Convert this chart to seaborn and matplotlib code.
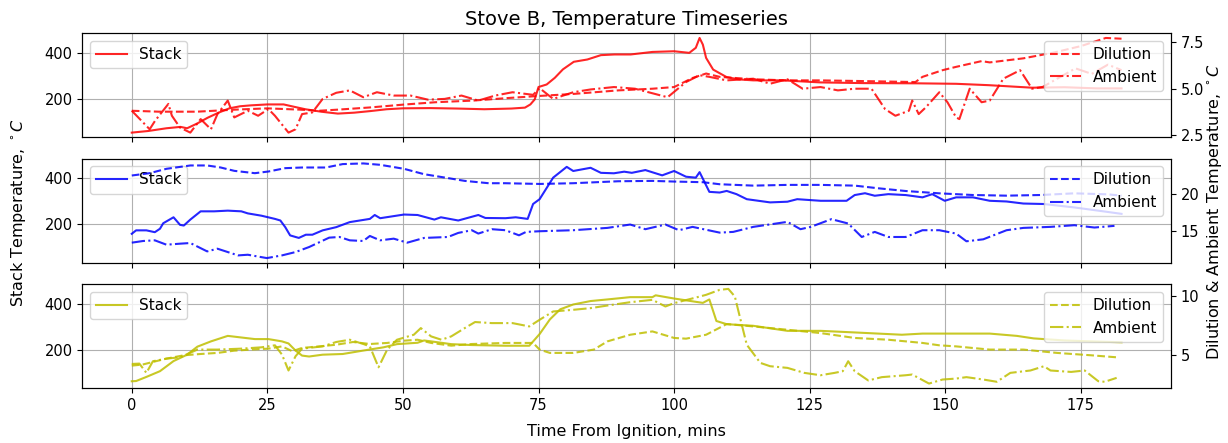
import numpy as np
import matplotlib
matplotlib.use("Agg")
import matplotlib.pyplot as plt
from matplotlib.ticker import MaxNLocator
import seaborn as sns

# ---------------- data ----------------
# Run 1 (red)
r1_stack_t = [0, 3, 6.4, 9, 10.2, 12, 14, 16, 18, 20, 22, 25, 28, 29.5, 32, 35, 38, 41, 44, 47, 50, 55, 60,
              65, 70, 72.5, 73.5, 74.3, 75, 76.5, 78, 79.5, 81.5, 84, 86.5, 89, 92, 96, 100, 102.8, 104,
              104.7, 105.3, 105.9, 107.2, 109.7, 112, 114.6, 120, 127, 135, 145, 152, 158, 166, 172, 178, 182.5]
r1_stack = [52, 59, 71, 77, 71, 91, 117, 139, 158, 167, 171, 175, 175, 167, 154, 143, 135, 139, 146, 154, 158,
            159, 157, 154, 157, 161, 175, 197, 251, 262, 291, 328, 361, 371, 390, 393, 393, 404, 407, 400, 422,
            465, 436, 378, 327, 294, 284, 280, 280, 271, 268, 267, 265, 259, 248, 250, 245, 245]
r1_dil_t = [0, 5, 12, 19, 25, 31, 34.5, 38, 44, 50, 56, 63, 69, 74.6, 81.5, 89.7, 96, 100, 103.4, 105.9, 108.4,
            114.6, 121, 127, 133.3, 144.5, 145.8, 149.5, 152, 156.7, 158.2, 164.4, 170, 175, 179.6, 182.5]
r1_dil = [3.81, 3.76, 3.76, 3.87, 3.94, 3.87, 3.81, 3.87, 3.99, 4.14, 4.27, 4.36, 4.49, 4.60, 4.72, 4.91, 5.0,
          5.09, 5.58, 5.82, 5.64, 5.51, 5.45, 5.45, 5.42, 5.36, 5.64, 6.0, 6.18, 6.49, 6.42, 6.64, 6.95, 7.3,
          7.74, 7.7]
r1_amb_t = [0, 0.8, 3.3, 4.3, 6.75, 7.4, 8.9, 10.8, 12.7, 14.6, 15.8, 17.7, 18.9, 21.4, 23.3, 25.2, 26.4, 28.9,
            30.2, 31.4, 33.3, 35.2, 37.7, 40.2, 42.7, 45.2, 48.3, 51.4, 54.6, 57.7, 60.8, 63.9, 67, 70.2, 74,
            75.2, 77.7, 81.4, 84.6, 88.9, 92.8, 98.8, 102.2, 104.7, 106.5, 109.7, 114.6, 117.7, 120.9, 123.7,
            127, 130.2, 133.3, 136.4, 138.9, 140.8, 143.3, 143.9, 145.1, 146.4, 148.9, 150.4, 152, 152.6, 154.5,
            156.7, 158.2, 160.7, 163.8, 166, 168, 171, 174, 177, 180, 182.5]
r1_amb = [3.81, 3.57, 2.81, 3.27, 4.18, 3.54, 2.90, 2.63, 3.36, 2.81, 3.63, 4.36, 3.45, 3.81, 3.54, 3.90, 3.54,
          2.63, 2.81, 3.63, 3.72, 4.45, 4.78, 4.91, 4.54, 4.81, 4.63, 4.63, 4.41, 4.45, 4.63, 4.36, 4.63, 4.81,
          4.67, 5.03, 4.45, 4.81, 4.96, 5.09, 5.0, 4.54, 5.36, 5.73, 5.64, 5.45, 5.54, 5.27, 5.51, 5.0, 5.09,
          4.91, 5.0, 5.0, 3.9, 3.54, 3.81, 4.36, 3.63, 3.99, 4.81, 4.27, 3.45, 3.36, 5.0, 4.27, 4.36, 5.54, 6.0,
          5.0, 5.1, 5.6, 6.1, 5.8, 6.3, 6.0]

# Run 2 (blue)
r2_stack_t = [0, 0.8, 2.7, 4.25, 5.2, 5.8, 7.7, 8.9, 9.6, 10.8, 12.7, 15.2, 17.7, 20.2, 21.4, 23.9, 26.4, 27.4,
              28.3, 29.2, 30.8, 32.1, 33.3, 35.2, 37.7, 40.2, 43.9, 44.8, 45.8, 50.2, 52.7, 55.8, 57, 60.2,
              63.9, 65.2, 68.9, 70.8, 73, 74, 75.2, 77.7, 80.2, 81.4, 84.6, 86.5, 88.9, 90.8, 92.2, 94.7, 97.8,
              100, 102.2, 104, 104.7, 106.5, 108.4, 109.7, 111.5, 113.4, 117.7, 120.9, 122.7, 127, 131.8, 133.3,
              135.2, 137, 139.5, 142.7, 145.8, 147.6, 149.9, 152, 155.1, 158.2, 161.3, 164.4, 168.1, 173.8,
              178.2, 182.5]
r2_stack = [158, 173, 173, 165, 180, 204, 230, 197, 194, 220, 256, 256, 259, 256, 247, 237, 223, 216, 187, 151,
            140, 154, 154, 173, 187, 209, 223, 240, 226, 242, 240, 220, 230, 216, 240, 227, 226, 230, 223, 288,
            309, 403, 450, 432, 446, 424, 422, 429, 424, 436, 413, 432, 407, 403, 427, 341, 338, 345, 331, 309,
            295, 298, 309, 302, 302, 327, 335, 324, 331, 327, 317, 331, 302, 317, 317, 302, 299, 290, 288, 273,
            259, 245]
r2_dil_t = [0, 3.3, 6.4, 10.8, 13.9, 16.4, 18.9, 22.7, 25.2, 28.3, 31.4, 35.8, 38.9, 42.7, 45.8, 50.2, 53.9,
            57.7, 61.4, 65.8, 68.9, 75.2, 81.4, 89.7, 96, 100, 105.3, 108.4, 114.6, 120.9, 127, 133.3, 137.7,
            142.7, 148.9, 155.1, 161.3, 167.6, 173.8, 180, 182.5]
r2_dil = [22.59, 22.91, 23.51, 23.97, 23.97, 23.69, 23.23, 22.91, 23.14, 23.60, 23.69, 23.69, 24.16, 24.25,
          24.06, 23.51, 22.77, 22.31, 21.85, 21.53, 21.53, 21.43, 21.53, 21.8, 21.85, 21.76, 21.67, 21.39, 21.2,
          21.3, 21.3, 21.2, 20.83, 20.46, 20.14, 19.91, 19.82, 19.91, 20.14, 20.0, 19.82]
r2_amb_t = [0, 2.1, 4.25, 6.4, 8.9, 10.8, 13.9, 15.8, 19.6, 21.4, 24.9, 27.7, 30.2, 32.7, 36.4, 38.3, 40.2,
            42.7, 43.9, 45.8, 48.3, 50.8, 53.9, 58.3, 60.2, 62.7, 63.9, 66.4, 68.9, 71.4, 72.7, 75.2, 81.4,
            87.7, 91.9, 94.7, 98.4, 100.9, 103.4, 108.4, 110.9, 114.6, 120.9, 123.3, 125.2, 129, 132.1, 134.6,
            137, 139.5, 142.7, 145.8, 148.9, 152, 153.9, 157, 161.3, 164.4, 169.4, 173.8, 177.5, 181.2]
r2_amb = [13.36, 13.59, 13.68, 13.08, 13.22, 13.31, 12.16, 12.53, 11.61, 11.70, 11.24, 11.61, 12.07, 12.76,
          14.05, 14.14, 13.68, 13.59, 14.28, 13.68, 13.91, 13.36, 14.01, 14.14, 14.70, 15.07, 14.61, 15.21,
          15.07, 14.37, 14.84, 14.93, 15.07, 15.39, 15.85, 15.21, 15.85, 15.07, 15.53, 14.74, 14.84, 15.53,
          16.22, 15.21, 15.53, 16.59, 15.99, 14.14, 14.84, 14.14, 14.14, 15.07, 15.07, 14.61, 13.55, 13.82,
          15.07, 15.39, 15.53, 15.76, 15.44, 15.67]

# Run 3 (yellow)
r3_stack_t = [0, 0.8, 2.7, 5.2, 7.7, 10.2, 12.1, 14.6, 17.7, 20.2, 22.7, 25.2, 27.7, 28.9, 30.2, 31.4, 32.7,
              35.2, 38.9, 42.7, 46.4, 48.9, 52.7, 53.9, 55.2, 58.9, 62.7, 68.9, 73.3, 75.2, 77.1, 79, 81.4,
              84.6, 87.7, 91.9, 96, 96.6, 100, 105.3, 106.5, 107.8, 109.7, 114.6, 120.9, 127, 133.3, 142,
              145.8, 152, 158.2, 163.2, 166.3, 172, 177, 182.5]
r3_stack = [62, 63, 81, 106, 150, 178, 213, 236, 260, 253, 246, 246, 236, 227, 196, 174, 170, 178, 181, 196,
            210, 224, 230, 240, 236, 224, 220, 217, 217, 268, 332, 376, 397, 412, 419, 429, 429, 437, 423, 404,
            419, 325, 311, 304, 282, 282, 275, 265, 270, 270, 270, 260, 249, 240, 236, 232]
r3_dil_t = [0, 2, 3.9, 6.4, 9.6, 12.7, 15.8, 18.9, 22, 25.2, 27.7, 29.6, 31.4, 34.6, 37.7, 40.8, 43.9, 47.1,
            50.2, 52.7, 55.2, 58.9, 62.7, 68.9, 74, 75.2, 77.1, 81.4, 85.2, 87.7, 91.9, 96, 100, 102.2, 105.9,
            109.7, 114.6, 120.9, 127, 133.3, 139.5, 145.8, 148.9, 152, 158.2, 164.4, 170.6, 176.9, 181.6]
r3_dil = [4.11, 4.20, 4.42, 4.70, 4.98, 5.09, 5.18, 5.37, 5.46, 5.54, 5.73, 5.32, 5.60, 5.73, 5.87, 6.1, 5.93,
          6.02, 6.21, 6.29, 6.02, 5.79, 5.93, 6.02, 6.02, 5.46, 5.18, 5.18, 5.46, 6.15, 6.71, 6.99, 6.44, 6.38,
          6.71, 7.61, 7.41, 7.13, 6.85, 6.44, 6.29, 6.02, 5.82, 5.73, 5.46, 5.46, 5.18, 4.98, 4.81]
r3_amb_t = [0, 1.4, 2.7, 3.9, 6.4, 8.9, 12.1, 15.8, 20.2, 23.9, 26.4, 27.7, 28.9, 30.2, 31.4, 35.2, 37.7, 40.2,
            42.7, 43.9, 45.5, 47.1, 48.9, 52, 53.3, 55.2, 57.1, 58.9, 61.4, 63.3, 66.4, 70.2, 73.3, 75.2, 77.7,
            81.4, 84.6, 87.7, 91.9, 96, 98.4, 100, 104, 105.9, 108.4, 110, 111.2, 112.1, 113.4, 115.9, 117.7,
            120.9, 124, 127, 129.6, 131.1, 132.1, 133.3, 135.8, 138.3, 142.7, 143.9, 147, 149.5, 152, 153.9,
            157, 159.5, 162, 165.7, 168.2, 169.4, 173.2, 175.7, 178.2, 179.4, 181.6]
r3_amb = [4.25, 4.28, 3.5, 4.48, 4.70, 4.81, 5.46, 5.46, 5.54, 5.65, 5.82, 5.04, 3.7, 4.9, 5.54, 5.73, 6.1,
          6.29, 5.93, 5.73, 3.97, 5.46, 6.29, 6.71, 7.27, 6.57, 6.29, 6.57, 7.27, 7.78, 7.69, 7.69, 7.41, 7.97,
          8.67, 8.81, 8.95, 9.17, 9.45, 9.65, 9.09, 9.37, 9.84, 10.07, 10.49, 10.57, 9.93, 8.25, 5.87, 4.34,
          4.06, 3.92, 3.5, 3.3, 3.5, 3.64, 4.48, 3.64, 2.86, 3.14, 3.3, 3.36, 2.6, 2.94, 3.02, 3.14, 2.94, 2.75,
          3.5, 3.7, 4.06, 3.7, 3.58, 3.7, 2.8, 2.75, 3.08]

run_colors = ["r", "b", "y"]
series_labels = ["Stack", "Dilution", "Ambient"]
title_text = "Stove B, Temperature Timeseries"
xlabel_text = "Time From Ignition, mins"
left_label = "Stack Temperature, $^\\circ C$"
right_label = "Dilution & Ambient Temperature, $^\\circ C$"

runs = [
    ((r1_stack_t, r1_stack), (r1_dil_t, r1_dil), (r1_amb_t, r1_amb)),
    ((r2_stack_t, r2_stack), (r2_dil_t, r2_dil), (r2_amb_t, r2_amb)),
    ((r3_stack_t, r3_stack), (r3_dil_t, r3_dil), (r3_amb_t, r3_amb)),
]

# ---------------- plotting ----------------
plt.rcParams["font.family"] = ["DejaVu Sans"]
plt.rcParams["font.size"] = 10.5

fig, axes = plt.subplots(3, 1, sharex=True, sharey=True, figsize=(12.28, 4.43), dpi=100)
fig.subplots_adjust(left=0.067, right=0.9536, top=0.925, bottom=0.1235, hspace=0.205)

steps = [1, 2, 2.5, 5, 10]
for i, (ax, run, col) in enumerate(zip(axes, runs, run_colors)):
    (st, sv), (dt, dv), (at, av) = run
    ax2 = ax.twinx()
    sns.lineplot(x=np.array(st), y=np.array(sv), ax=ax, color=col, alpha=0.85,
                 linestyle="-", label=series_labels[0], errorbar=None, linewidth=1.5)
    sns.lineplot(x=np.array(dt), y=np.array(dv), ax=ax2, color=col, alpha=0.85,
                 linestyle="--", label=series_labels[1], errorbar=None, linewidth=1.5)
    sns.lineplot(x=np.array(at), y=np.array(av), ax=ax2, color=col, alpha=0.85,
                 linestyle="-.", label=series_labels[2], errorbar=None, linewidth=1.5)
    ax.yaxis.set_major_locator(MaxNLocator(nbins=2, steps=steps))
    ax2.yaxis.set_major_locator(MaxNLocator(nbins=2, steps=steps))
    ax.grid(True, color="#b0b0b0", linewidth=0.8)
    ax.set_axisbelow(True)
    ax.legend(loc="upper left", fontsize=11)
    ax2.legend(loc="upper right", fontsize=11)
    ax.set_xlabel("")
    ax.set_ylabel("")
    ax2.set_ylabel("")
    ax.tick_params(labelsize=10.5)
    ax2.tick_params(labelsize=10.5)
    for sp in list(ax.spines.values()) + list(ax2.spines.values()):
        sp.set_color("black")

axes[0].set_title(title_text, fontsize=14)
fig.text(0.5102, 0.025, xlabel_text, ha="center", va="center", fontsize=11.5)
fig.text(0.0147, 0.5214, left_label, ha="center", va="center", rotation=90, fontsize=11.5)
fig.text(0.9893, 0.5214, right_label, ha="center", va="center", rotation=90, fontsize=11.5)

fig.savefig("out.png", dpi=100)
